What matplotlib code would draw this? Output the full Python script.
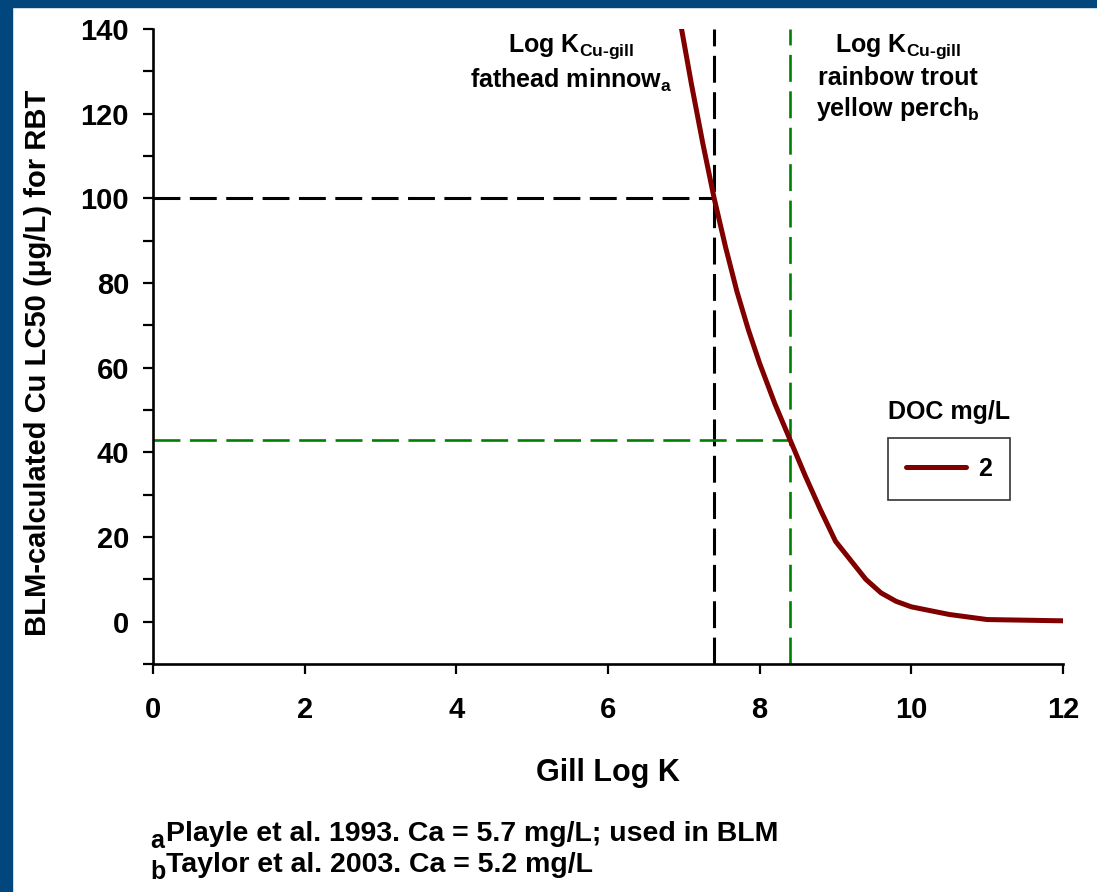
import numpy as np
import matplotlib
matplotlib.use('Agg')
import matplotlib.pyplot as plt
from matplotlib.patches import Rectangle

##
## Data
##
log_k = [6.97, 7.1, 7.25, 7.4, 7.55, 7.7, 7.85, 8.0, 8.2, 8.4, 8.6, 8.8, 9.0,
         9.2, 9.4, 9.6, 9.8, 10.0, 10.5, 11.0, 12.0]
lc50 = [140, 127, 113, 100, 88.5, 78, 69, 61, 51.5, 43, 34.5, 26.5, 19,
        14.5, 10, 6.8, 4.8, 3.5, 1.7, 0.5, 0.2]

fm_logk, fm_lc50 = 7.4, 100      # fathead minnow (Playle 1993)
rbt_logk, rbt_lc50 = 8.4, 43     # rainbow trout / yellow perch (Taylor 2003)

xticks = [0, 2, 4, 6, 8, 10, 12]
yticks = [-10, 0, 10, 20, 30, 40, 50, 60, 70, 80, 90, 100, 110, 120, 130, 140]
ylabels = ['', '0', '', '20', '', '40', '', '60', '', '80', '', '100', '', '120', '', '140']

plt.rcParams['font.family'] = ['Liberation Sans', 'DejaVu Sans']
plt.rcParams['font.weight'] = 'bold'
plt.rcParams['mathtext.fontset'] = 'custom'
plt.rcParams['mathtext.rm'] = 'Liberation Sans:bold'
plt.rcParams['mathtext.it'] = 'Liberation Sans:bold'
plt.rcParams['mathtext.bf'] = 'Liberation Sans:bold'
plt.rcParams['mathtext.default'] = 'rm'

W, H = 1097, 892
fig = plt.figure(figsize=(W/100, H/100), dpi=100)
fig.patch.set_facecolor('white')

# blue slide border (left and top)
blue = '#02467e'
fig.patches.append(Rectangle((0, 0), 12/W, 1, transform=fig.transFigure, color=blue, zorder=0))
fig.patches.append(Rectangle((0, 1 - 7/H), 1, 7/H, transform=fig.transFigure, color=blue, zorder=0))

ax = fig.add_axes([153/W, 1 - 664/H, 910/W, 635/H])
ax.set_xlim(0, 12)
ax.set_ylim(-10, 140)

ax.axvline(fm_logk, color='black', lw=2.2, ls=(0, (8.8, 3.1)))
ax.hlines(fm_lc50, 0, fm_logk, color='black', lw=2.2, ls=(0, (8.8, 3.1)))
ax.axvline(rbt_logk, color='#008000', lw=1.9, ls=(0, (10.2, 3.6)))
ax.hlines(rbt_lc50, 0, rbt_logk, color='#008000', lw=1.9, ls=(0, (10.2, 3.6)))

ax.plot(log_k, lc50, color='#800000', lw=3.6, solid_capstyle='round',
        solid_joinstyle='round', label='2', zorder=5)

for s in ['top', 'right']:
    ax.spines[s].set_visible(False)
for s in ['left', 'bottom']:
    ax.spines[s].set_linewidth(1.9)

ax.set_xticks(xticks)
ax.set_xticklabels([str(t) for t in xticks])
ax.set_yticks(yticks)
ax.set_yticklabels(ylabels)
ax.tick_params(axis='both', direction='out', length=7.2, width=1.6, labelsize=21)
ax.tick_params(axis='x', pad=16)
ax.tick_params(axis='y', pad=10)

ax.set_xlabel('Gill Log K', fontsize=22, fontweight='bold')
ax.xaxis.set_label_coords(0.5, -0.148)
ax.set_ylabel('BLM-calculated Cu LC50 (\u03bcg/L) for RBT', fontsize=21, fontweight='bold')
ax.yaxis.set_label_coords(-0.111, 0.474)

ax.text(5.51, 139.2, 'Log K$_{\\text{Cu-gill}}$\nfathead minnow$_{\\text{a}}$',
        ha='center', va='top', fontsize=18, linespacing=1.25)
ax.text(9.82, 139.2, 'Log K$_{\\text{Cu-gill}}$\nrainbow trout\nyellow perch$_{\\text{b}}$',
        ha='center', va='top', fontsize=18, linespacing=1.25)

fig.text(949/W, 1 - 412/H, 'DOC mg/L', ha='center', va='center', fontsize=18)
leg = ax.legend(loc='center', bbox_to_anchor=(949/W, 1 - 469/H), bbox_transform=fig.transFigure,
                fontsize=18, frameon=True, fancybox=False, handlelength=2.4,
                borderpad=0.75, handletextpad=0.45)
leg.get_frame().set_edgecolor('black')
leg.get_frame().set_linewidth(1.2)

# footnotes with lowered reference letters
fig.text(150/W, 1 - 848/H, 'a', ha='left', va='baseline', fontsize=18)
fig.text(166/W, 1 - 841/H, 'Playle et al. 1993. Ca = 5.7 mg/L; used in BLM',
         ha='left', va='baseline', fontsize=20.5)
fig.text(150/W, 1 - 879/H, 'b', ha='left', va='baseline', fontsize=18)
fig.text(166/W, 1 - 872/H, 'Taylor et al. 2003. Ca = 5.2 mg/L',
         ha='left', va='baseline', fontsize=20.5)

plt.savefig('out.png', dpi=100)
